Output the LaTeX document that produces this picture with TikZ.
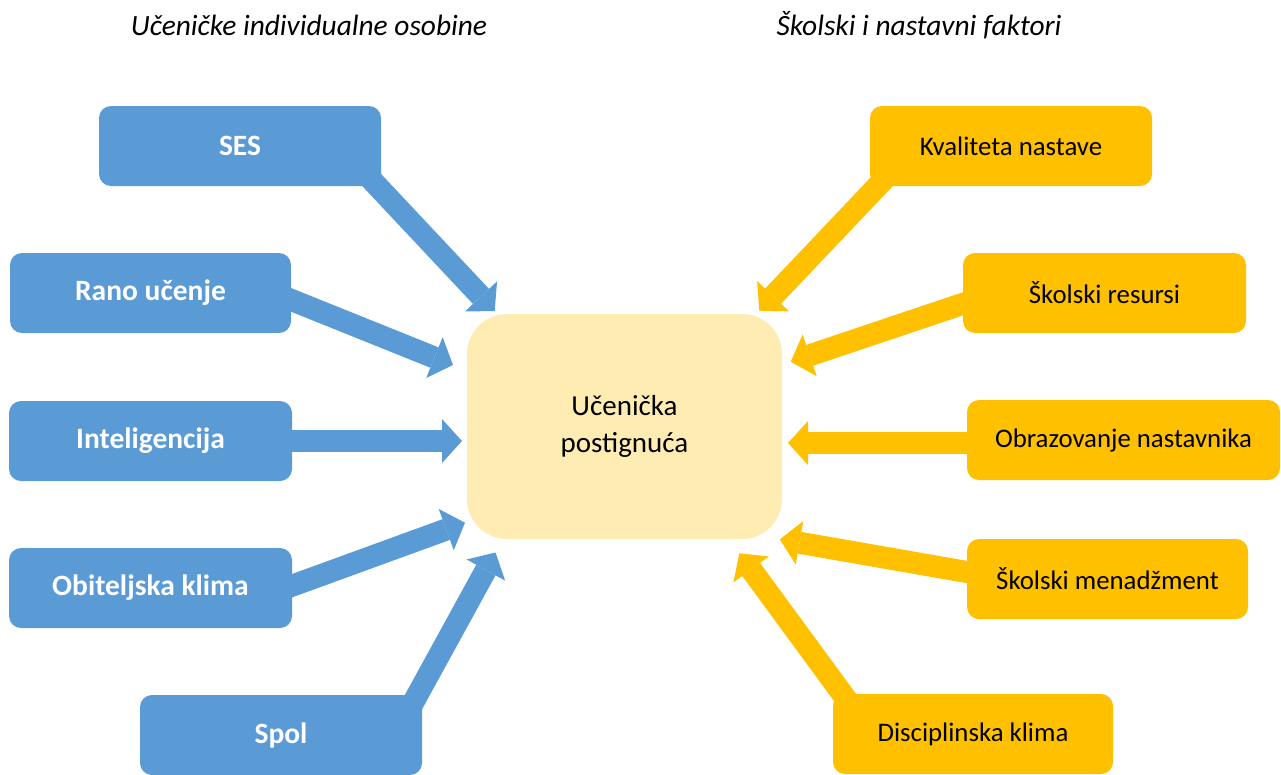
\documentclass[tikz,border=0pt]{standalone}
\usepackage{fontspec}
\setmainfont{Carlito}
\usetikzlibrary{arrows.meta}
\definecolor{sblue}{HTML}{5B9BD5}
\definecolor{sorange}{HTML}{FFC000}
\definecolor{scenter}{HTML}{FFECB3}
\begin{document}
\begin{tikzpicture}[x=1pt,y=-1pt,
  box/.style={rounded corners=12pt, inner sep=0pt, minimum height=80pt, anchor=center},
  bluebox/.style={box, fill=sblue, text=white, font=\fontsize{29.5}{35}\selectfont\bfseries},
  orbox/.style={box, fill=sorange, text=black, font=\fontsize{26.8}{32}\selectfont},
  blk/.style={line width=22pt, -{Triangle[width=44pt,length=20pt,line width=0pt]}},
  bluearrow/.style={blk, draw=sblue},
  orarrow/.style={blk, draw=sorange},
  title/.style={font=\fontsize{29.4}{35}\selectfont\itshape, inner sep=0pt}
]
\useasboundingbox (0,0) rectangle (1281,774);
% arrow anchors
\coordinate (sesS) at (351,158);   \coordinate (sesT) at (494.7,311);
\coordinate (ranoS) at (273,292.6); \coordinate (ranoT) at (453,365);
\coordinate (intS) at (280,441);   \coordinate (intT) at (462,441);
\coordinate (obiS) at (272,593);   \coordinate (obiT) at (465,522.7);
\coordinate (spolS) at (400,726.6); \coordinate (spolT) at (495.5,552.5);
\coordinate (kvalS) at (903.8,158.5); \coordinate (kvalT) at (759.3,310.7);
\coordinate (resS) at (982,297.4); \coordinate (resT) at (790.7,361.7);
\coordinate (obrS) at (990,443);   \coordinate (obrT) at (788,443);
\coordinate (menS) at (987,575.5); \coordinate (menT) at (779.8,539.3);
\coordinate (disS) at (863,722);   \coordinate (disT) at (739.3,553.3);
\draw[bluearrow] (sesS) -- (sesT);
\draw[bluearrow] (ranoS) -- (ranoT);
\draw[bluearrow] (intS) -- (intT);
\draw[bluearrow] (obiS) -- (obiT);
\draw[bluearrow] (spolS) -- (spolT);
\draw[orarrow] (kvalS) -- (kvalT);
\draw[orarrow] (resS) -- (resT);
\draw[orarrow] (obrS) -- (obrT);
\draw[orarrow] (menS) -- (menT);
\draw[orarrow] (disS) -- (disT);
% titles
\node[title] (t1) at (309,25) {Učeničke individualne osobine};
\node[title] (t2) at (919,25) {Školski i nastavni faktori};
% center
\node[rounded corners=40pt, fill=scenter, minimum width=315pt, minimum height=225pt, inner sep=0pt, align=center, font=\fontsize{29}{36.7}\selectfont] (c) at (624.5,426.5) {Učenička\\postignuća};
% blue boxes
\node[bluebox, minimum width=282pt] (ses) at (240,146) {SES};
\node[bluebox, minimum width=281pt] (rano) at (150.5,293) {Rano učenje};
\node[bluebox, minimum width=283pt] (int) at (150.5,441) {Inteligencija};
\node[bluebox, minimum width=283pt] (obi) at (150.5,588) {Obiteljska klima};
\node[bluebox, minimum width=282pt] (spol) at (281,735) {Spol};
% orange boxes
\node[orbox, minimum width=282pt] (kval) at (1011,146) {Kvaliteta nastave};
\node[orbox, minimum width=283pt] (res) at (1104.5,293) {Školski resursi};
\node[orbox, minimum width=313pt] (obr) at (1123.5,440) {Obrazovanje nastavnika};
\node[orbox, minimum width=281pt] (men) at (1107.5,579) {Školski menadžment};
\node[orbox, minimum width=280pt] (dis) at (973,734) {Disciplinska klima};
\end{tikzpicture}
\end{document}
